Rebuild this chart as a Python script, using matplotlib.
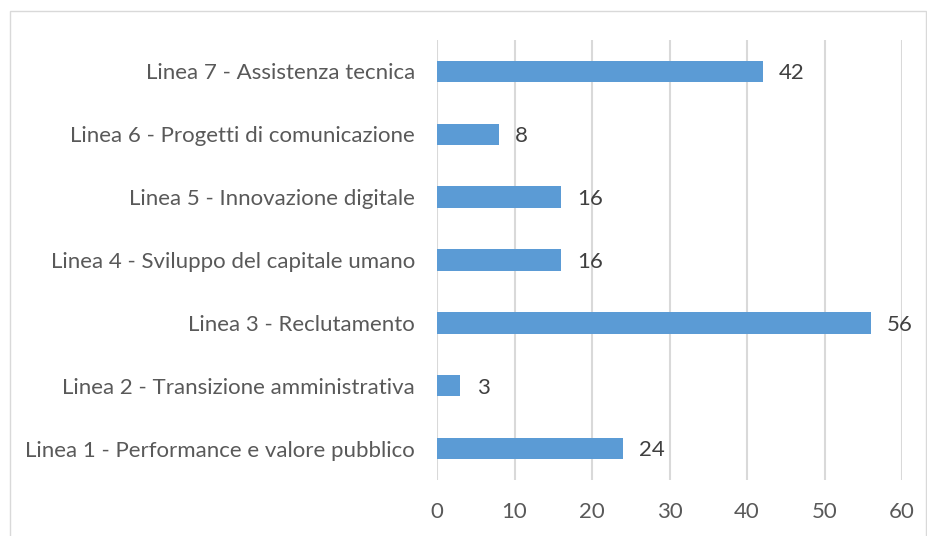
import matplotlib
matplotlib.use("Agg")
import matplotlib.pyplot as plt
from matplotlib.patches import Rectangle

labels = [
    "Linea 1 - Performance e valore pubblico",
    "Linea 2 - Transizione amministrativa",
    "Linea 3 - Reclutamento",
    "Linea 4 - Sviluppo del capitale umano",
    "Linea 5 - Innovazione digitale",
    "Linea 6 - Progetti di comunicazione",
    "Linea 7 - Assistenza tecnica",
]
values = [24, 3, 56, 16, 16, 8, 42]
xticks = [0, 10, 20, 30, 40, 50, 60]

plt.rcParams['font.family'] = ['Lato', 'DejaVu Sans']
txt = "#595959"
fs = 16

fig = plt.figure(figsize=(9.28, 5.36), dpi=100)
ax = fig.add_axes([437 / 928, 0.1045, 465 / 928, 0.821])

ax.barh(range(len(values)), values, height=0.34, color="#5B9BD5", zorder=3)
for i, v in enumerate(values):
    ax.text(v + 2.1, i - 0.03, str(v), va="center", ha="left", fontsize=fs, color="#404040")

ax.set_xlim(0, 60)
ax.set_ylim(-0.5, len(values) - 0.5)
ax.set_xticks(xticks)
ax.set_yticks(range(len(labels)))
ax.set_yticklabels(labels)
ax.tick_params(axis="both", length=0, labelsize=fs, colors=txt)
ax.tick_params(axis="x", pad=16)
ax.tick_params(axis="y", pad=16)
ax.grid(axis="x", color="#D9D9D9", linewidth=1.5, zorder=0)
for s in ax.spines.values():
    s.set_visible(False)

fig.patches.append(Rectangle((10 / 928, -0.01), 916 / 928, 1 - 11 / 536 + 0.01,
                             transform=fig.transFigure, fill=False,
                             edgecolor="#D9D9D9", linewidth=1))

fig.savefig("out.png", dpi=100)
